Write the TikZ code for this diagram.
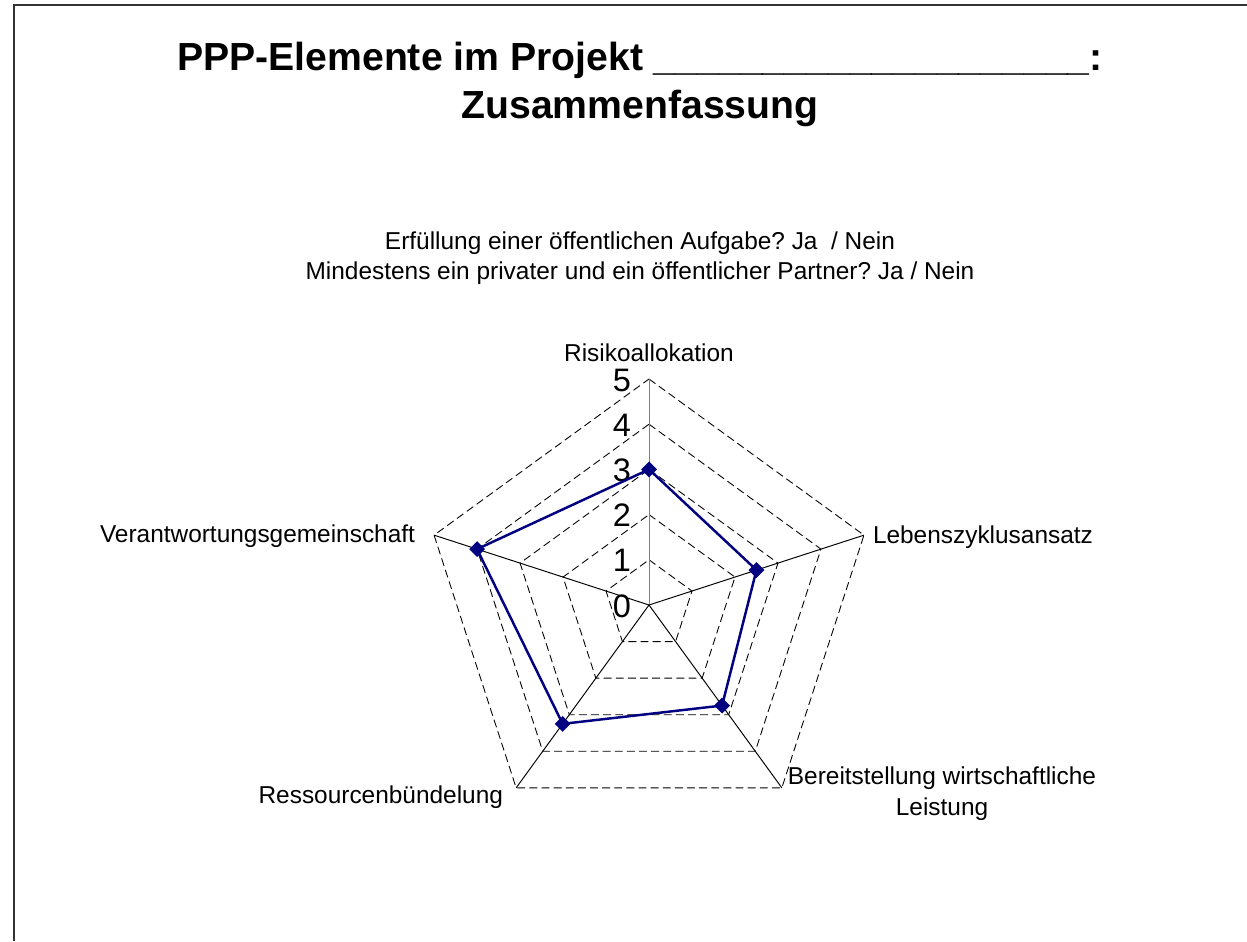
\documentclass[tikz,border=0pt]{standalone}
\usepackage{fontspec}
\setmainfont{Liberation Sans}
\usetikzlibrary{shapes.geometric}
\definecolor{navy}{RGB}{0,0,128}
\frenchspacing

\begin{document}
\begin{tikzpicture}[
x=0.02cm, y=0.02cm,
every node/.style={inner sep=0pt, outer sep=0pt},
]
% \draw [help lines] (0,0) grid (1247,941);

\tikzset{
	grid/.style={black, dash pattern=on 4.5pt off 2.4pt, line width=0.5pt},
	spoke/.style={black, line width=0.55pt},
	series/.style={navy, line width=1.4pt},
	dot/.style={diamond, fill=navy, minimum size=9pt},
	lbl/.style={font=\fontsize{13.9}{17.6}\selectfont},
	num/.style={font=\fontsize{18.5}{21}\selectfont, anchor=east},
	headline/.style={font=\fontsize{22.3}{27}\selectfont\bfseries, anchor=base},
}

\useasboundingbox (0,0) rectangle (1247,941);
\draw[black!80, line width=1.1pt] (14,0) -- (14,936) -- (1247,936);

\node[headline] (title) at (640,870) {PPP-Elemente im Projekt \_\_\_\_\_\_\_\_\_\_\_\_\_\_\_\_\_\_\_\_:};
\node[headline] (title2) at (640,822) {Zusammenfassung};

\node[lbl, anchor=base] (sub1) at (640,691) {Erfüllung einer öffentlichen Aufgabe? Ja\ \ / Nein};
\node[lbl, anchor=base] (sub2) at (640,661) {Mindestens ein privater und ein öffentlicher Partner? Ja / Nein};

\begin{scope}[shift={(649,336)}]
\coordinate (c) at (0,0);
\foreach \a [count=\i] in {90,18,-54,-126,162}
	\coordinate (v\i) at (\a:226);

\foreach \k in {1,...,5}
	\draw[grid] (90:45.2*\k) -- (18:45.2*\k) -- (-54:45.2*\k) -- (-126:45.2*\k) -- (162:45.2*\k) -- cycle;

\draw[spoke, gray] (c) -- (v1);
\foreach \i in {2,...,5}
	\draw[spoke] (c) -- (v\i);

\foreach \k in {0,...,5}
	\node[num] (n\k) at (-18,45.2*\k-1) {\k};

\foreach \a/\v [count=\i] in {90/3, 18/2.5, -54/2.75, -126/3.25, 162/4}
	\coordinate (p\i) at (\a:45.2*\v);

\draw[series] (p1) -- (p2) -- (p3) -- (p4) -- (p5) -- cycle;
\foreach \i in {1,...,5}
	\node[dot] (d\i) at (p\i) {};
\end{scope}

\node[lbl, anchor=base] (risk) at (649,580) {Risikoallokation};
\node[lbl, anchor=base west] (leben) at (873,398) {Lebenszyklusansatz};
\node[lbl, anchor=north, align=center] (bereit) at (942,174) {Bereitstellung wirtschaftliche\\Leistung};
\node[lbl, anchor=base east] (ressource) at (503,138) {Ressourcenbündelung};
\node[lbl, anchor=base east] (verant) at (415,399) {Verantwortungsgemeinschaft};

\end{tikzpicture}
\end{document}
